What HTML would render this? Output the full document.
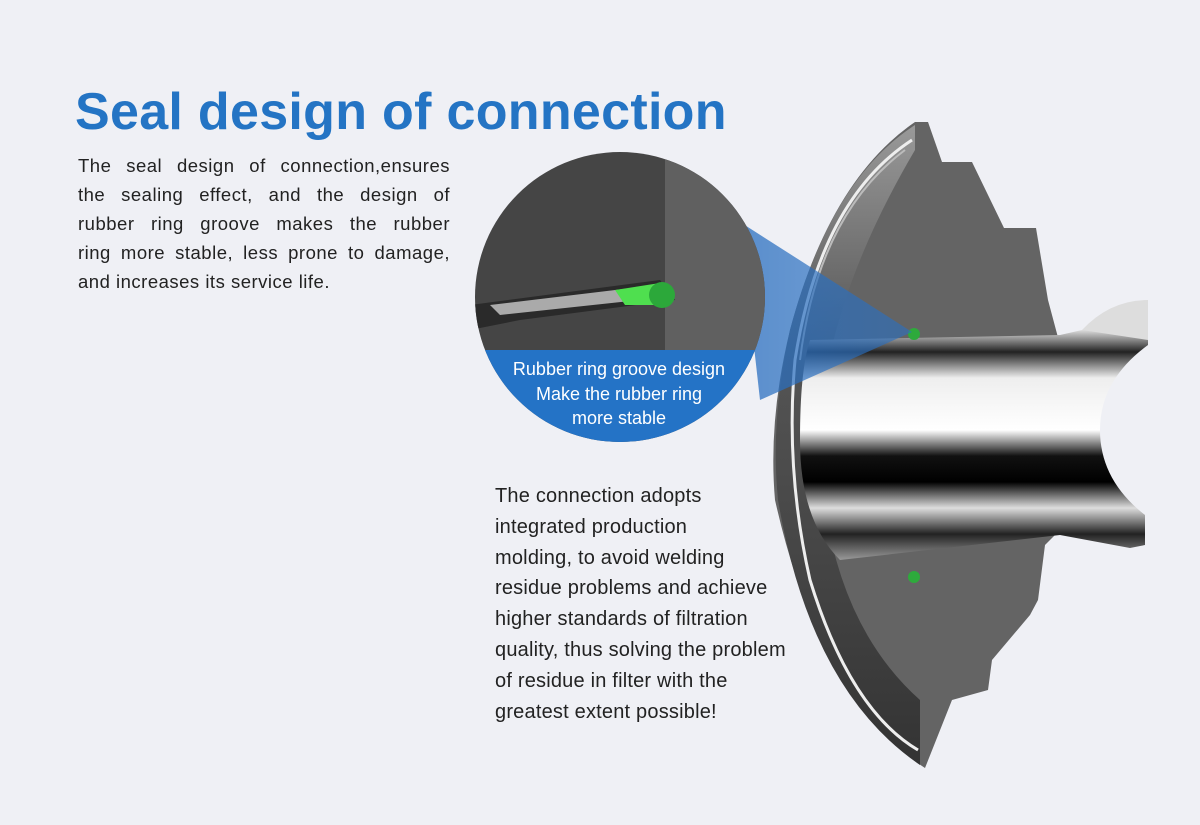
<!DOCTYPE html>
<html><head><meta charset="utf-8"><style>
html,body{margin:0;padding:0}
body{width:1200px;height:825px;background:#eff0f5;position:relative;overflow:hidden;font-family:"Liberation Sans",sans-serif}
h1{position:absolute;left:75px;top:82px;margin:0;font-size:52px;font-weight:bold;color:#2474c4;letter-spacing:0.3px}
.p1{position:absolute;left:78px;top:151px;width:372px;font-size:18.5px;line-height:29px;color:#222}
.p1 div{text-align:justify;text-align-last:justify;white-space:nowrap;letter-spacing:0.5px}
.p1 div.l{text-align-last:left}
.p2{position:absolute;left:495px;top:481px;width:330px;font-size:20px;line-height:30.8px;color:#222;letter-spacing:0.2px;white-space:nowrap}
.cap{position:absolute;left:476px;top:357px;width:286px;text-align:center;color:#fff;font-size:18px;line-height:24.5px}
svg{position:absolute;left:0;top:0}
</style></head><body>
<svg width="1200" height="825">
<defs>
<linearGradient id="tube" x1="0" y1="0" x2="0" y2="1">
<stop offset="0" stop-color="#888"/><stop offset="0.1" stop-color="#fff"/><stop offset="0.2" stop-color="#222"/>
<stop offset="0.3" stop-color="#eee"/><stop offset="0.5" stop-color="#fff"/><stop offset="0.6" stop-color="#111"/>
<stop offset="0.7" stop-color="#000"/><stop offset="0.8" stop-color="#ddd"/><stop offset="0.9" stop-color="#222"/><stop offset="1" stop-color="#999"/>
</linearGradient>
<linearGradient id="face" x1="0" y1="0" x2="0" y2="1">
<stop offset="0" stop-color="#999"/><stop offset="0.35" stop-color="#555"/><stop offset="0.7" stop-color="#444"/><stop offset="1" stop-color="#333"/>
</linearGradient>
<linearGradient id="beam" x1="0" y1="0" x2="1" y2="0">
<stop offset="0" stop-color="#2a6fc0" stop-opacity="0.95"/><stop offset="1" stop-color="#2a6fc0" stop-opacity="0.75"/>
</linearGradient>
<clipPath id="cc"><circle cx="620" cy="297" r="145"/></clipPath>
</defs>
<path d="M915,122 L928,122 L942,162 L972,162 L1004,228 L1036,228 L1048,300 L1060,345 L1060,530 L1045,545 L1038,600 L1030,615 L992,660 L988,690 L952,700 L925,768 Q820,700 775,500 Q768,420 790,330 Q830,180 915,122 Z" fill="#646464"/>
<path d="M915,125 Q830,180 790,330 Q770,420 778,500 Q810,690 920,765 L920,700 Q830,620 820,460 Q815,320 915,150 Z" fill="url(#face)"/>
<path d="M912,140 Q820,200 795,360 Q785,470 810,580 Q850,710 918,750" fill="none" stroke="#eee" stroke-width="3"/>
<path d="M905,150 Q818,215 800,360" fill="none" stroke="#bbb" stroke-width="2"/>
<path d="M810,340 L1060,335 L1135,318 L1148,300 L1148,345 Q1100,380 1100,430 Q1100,480 1145,515 L1145,545 L1130,548 L1060,535 L840,560 Q800,520 800,440 Q800,370 810,340 Z" fill="url(#tube)"/>
<path d="M1082,330 Q1110,300 1148,300 L1148,340 Z" fill="#ddd"/>
<circle cx="914" cy="334" r="6" fill="#2eaa3c"/>
<circle cx="914" cy="577" r="6" fill="#2eaa3c"/>
<path d="M740,222 L912,332 L760,400 Z" fill="url(#beam)" opacity="0.8"/>
<g clip-path="url(#cc)">
<rect x="470" y="150" width="300" height="300" fill="#454545"/>
<rect x="665" y="150" width="110" height="210" fill="#606060"/>
<path d="M470,305 L660,280 L675,300 L520,320 L470,330 Z" fill="#2a2a2a"/>
<path d="M490,305 L640,287 L640,300 L500,315 Z" fill="#aaa"/>
<path d="M615,290 L660,283 L665,305 L625,305 Z" fill="#4fdf4f"/>
<circle cx="662" cy="295" r="13" fill="#2ca83a"/>
<rect x="470" y="350" width="300" height="100" fill="#2473c6"/>
</g>
</svg>
<h1>Seal design of connection</h1>
<div class="p1">
<div>The seal design of connection,ensures</div>
<div>the sealing effect, and the design of</div>
<div>rubber ring groove makes the rubber</div>
<div>ring more stable, less prone to damage,</div>
<div class="l">and increases its service life.</div>
</div>
<div class="cap">Rubber ring groove design<br>Make the rubber ring<br>more stable</div>
<div class="p2">The connection adopts<br>integrated production<br>molding, to avoid welding<br>residue problems and achieve<br>higher standards of filtration<br>quality, thus solving the problem<br>of residue in filter with the<br>greatest extent possible!</div>
</body></html>
